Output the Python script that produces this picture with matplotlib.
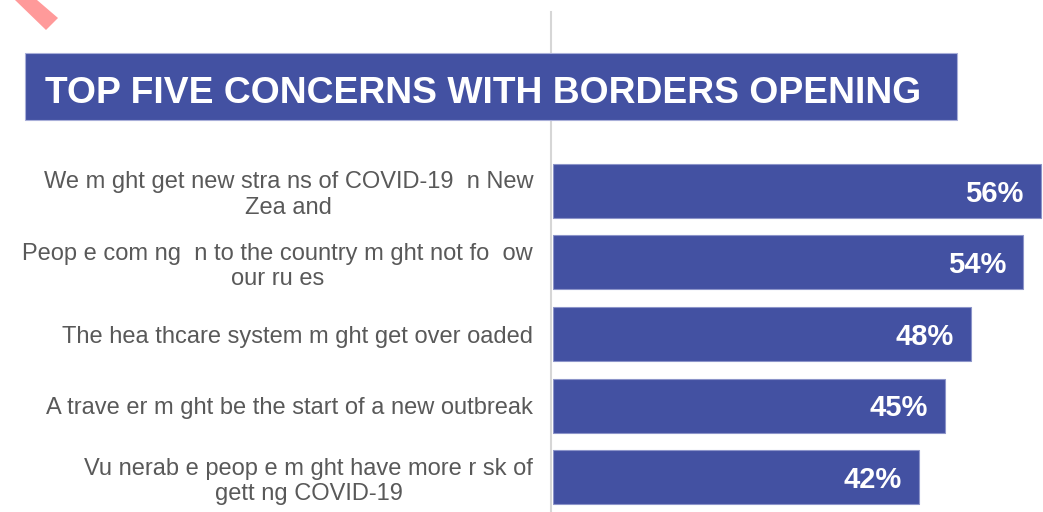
import matplotlib
matplotlib.use("Agg")
import matplotlib.pyplot as plt
from matplotlib.patches import Rectangle, Polygon
from matplotlib.lines import Line2D

# Survey results: share of respondents naming each concern
concerns = [
    "We m ght get new stra ns of COVID-19  n New\nZea and",
    "Peop e com ng  n to the country m ght not fo  ow\nour ru es",
    "The hea thcare system m ght get over oaded",
    "A trave er m ght be the start of a new outbreak",
    "Vu nerab e peop e m ght have more r sk of\ngett ng COVID-19",
]
shares = [56, 54, 48, 45, 42]
title = "TOP FIVE CONCERNS WITH BORDERS OPENING"

W, H = 1043, 512
BLUE = "#4351A2"
GREY_TEXT = "#595959"

fig = plt.figure(figsize=(W / 100, H / 100), dpi=100)
fig.patch.set_facecolor("white")


def fx(px):
    return px / W


def fy(py):
    return 1 - py / H


# Vertical divider (sits behind the banner)
fig.add_artist(Line2D([fx(551), fx(551)], [fy(12), fy(H)],
                      transform=fig.transFigure, color="#d6d6d6", lw=1.5,
                      zorder=0))

# Bar panel
x0 = 553
ax = fig.add_axes([fx(x0), 0, fx(W - x0), 1])
px_per_pct = 8.71
ax.set_xlim(0, (W - x0) / px_per_pct)
step = 71.5
first_center = 191
ax.set_ylim((H - first_center) / step, -first_center / step)

ypos = list(range(len(concerns)))
ax.barh(ypos, shares, height=54 / step, color=BLUE,
        edgecolor="#8c94c9", linewidth=0.8)

for y, v in zip(ypos, shares):
    ax.text(v - 17 / px_per_pct, y + 11 / step, f"{v}%", ha="right",
            va="baseline", color="white", fontsize=21, fontweight="bold",
            family="Liberation Sans")

ax.set_yticks(ypos)
ax.set_yticklabels(concerns)
ax.tick_params(axis="y", length=0, pad=14.4)
for lab in ax.get_yticklabels():
    lab.set_multialignment("center")
    lab.set_family("Liberation Sans")
    lab.set_fontsize(17)
    lab.set_color(GREY_TEXT)
    lab.set_linespacing(1.2)
ax.set_xticks([])
for s in ax.spines.values():
    s.set_visible(False)
ax.patch.set_alpha(0)

# Title banner
fig.add_artist(Rectangle((fx(25), fy(120)), fx(957 - 25), fy(53) - fy(120),
                         transform=fig.transFigure, facecolor=BLUE,
                         edgecolor="#a9afd9", linewidth=0.8, zorder=2))
fig.text(fx(45), fy(103), title, ha="left", va="baseline", color="white",
         fontsize=26.8, fontweight="bold", family="Liberation Sans",
         zorder=3)

# Corner ribbon
fig.add_artist(Polygon([(fx(15), fy(0)), (fx(37), fy(0)), (fx(58), fy(18)),
                        (fx(46), fy(30))], closed=True,
                       transform=fig.transFigure, facecolor="#ff9a9a",
                       edgecolor="none"))

fig.savefig("out.png", dpi=100)
